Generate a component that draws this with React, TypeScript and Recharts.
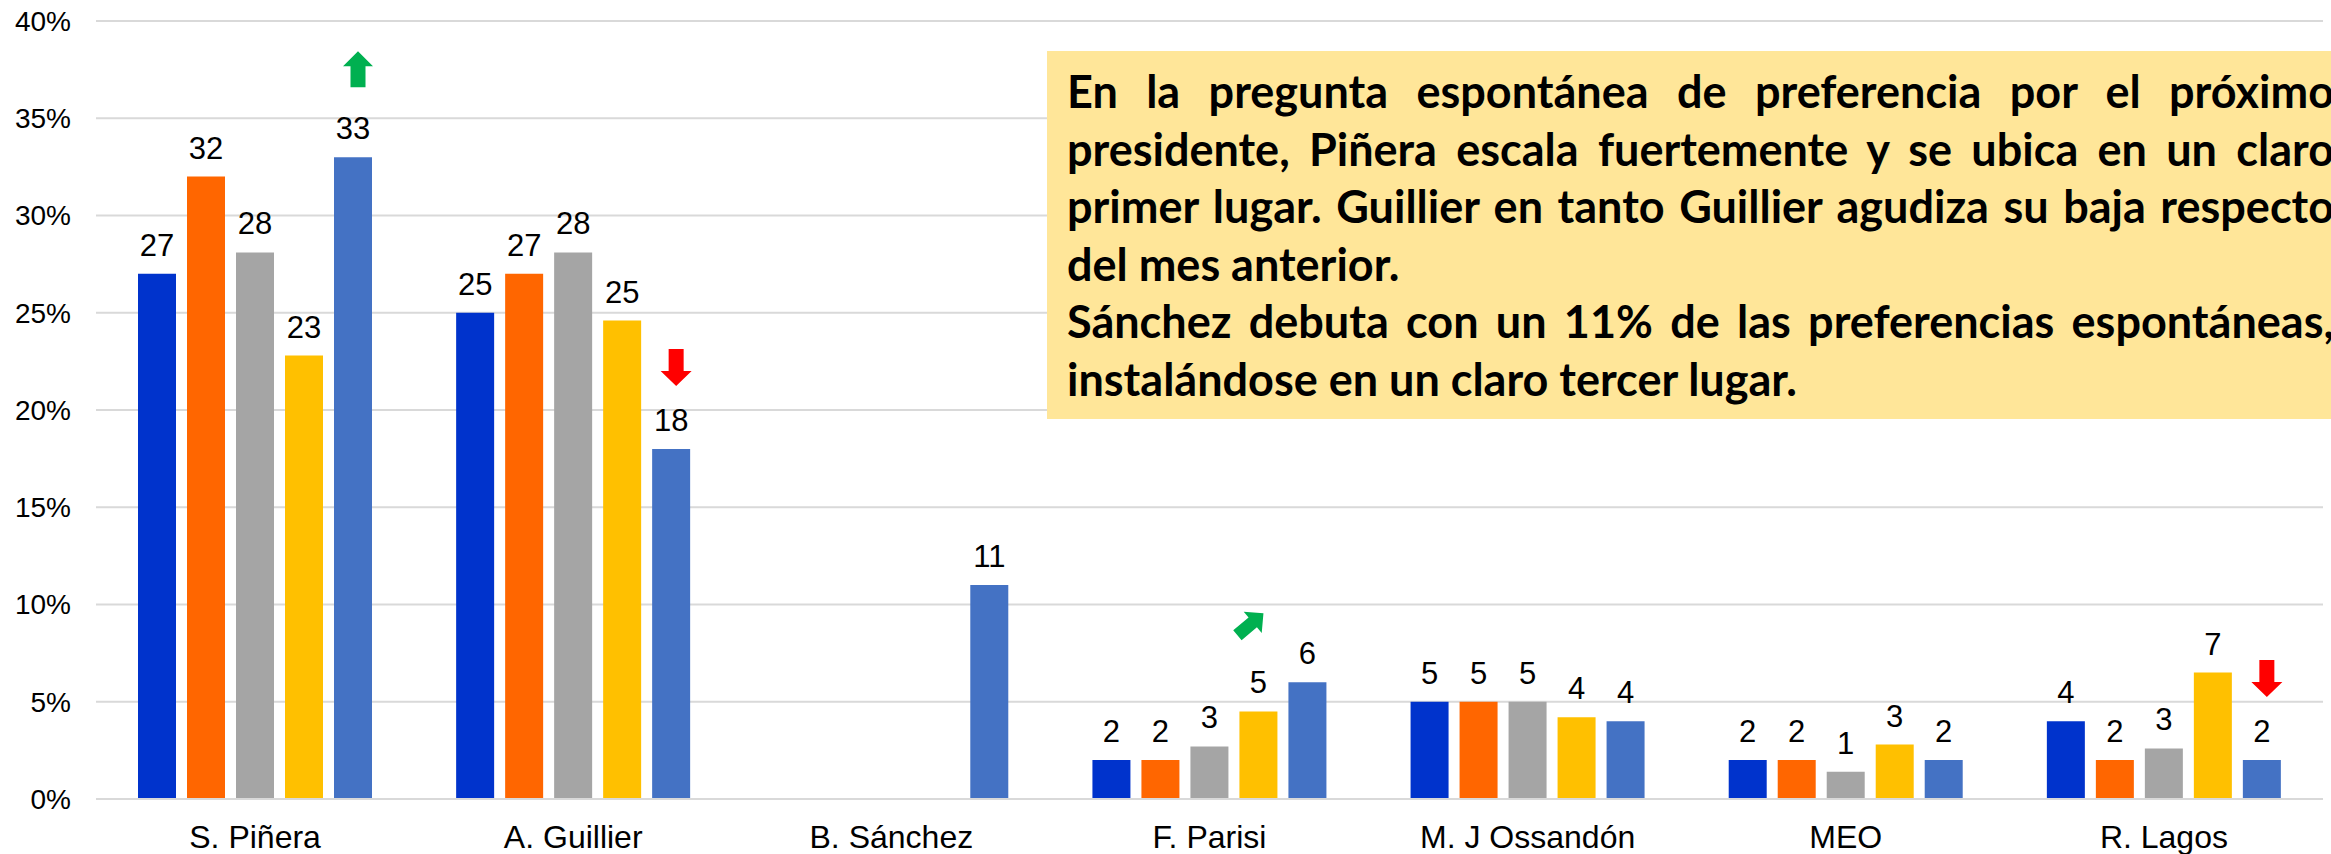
import React from 'react';
import { BarChart, Bar, XAxis, YAxis, CartesianGrid, LabelList } from 'recharts';

const categories = ['S. Piñera', 'A. Guillier', 'B. Sánchez', 'F. Parisi', 'M. J Ossandón', 'MEO', 'R. Lagos'];
const serie1 = [27, 25, null, 2, 5, 2, 4];
const serie2 = [32, 27, null, 2, 5, 2, 2];
const serie3 = [28.1, 28.1, null, 2.7, 5, 1.4, 2.6];
const serie4 = [22.8, 24.6, null, 4.5, 4.2, 2.8, 6.5];
const serie5 = [33, 18, 11, 6, 4, 2, 2];
const trend = ['up', 'down', null, 'diag', null, null, 'down'];
const yTicks = [0, 5, 10, 15, 20, 25, 30, 35, 40];

const noteLines = [
  { text: 'En la pregunta espontánea de preferencia por el próximo', justify: true },
  { text: 'presidente, Piñera escala fuertemente y se ubica en un claro', justify: true },
  { text: 'primer lugar. Guillier en tanto Guillier agudiza su baja respecto', justify: true },
  { text: 'del mes anterior.', justify: false },
  { text: 'Sánchez debuta con un 11% de las preferencias espontáneas,', justify: true },
  { text: 'instalándose en un claro tercer lugar.', justify: false },
];

const series = [
  { key: 's1', values: serie1, color: '#0033CC' },
  { key: 's2', values: serie2, color: '#FF6600' },
  { key: 's3', values: serie3, color: '#A5A5A5' },
  { key: 's4', values: serie4, color: '#FFC000' },
  { key: 's5', values: serie5, color: '#4472C4' },
];

const data = categories.map((name, i) => {
  const row: any = { name };
  series.forEach((s) => (row[s.key] = s.values[i]));
  return row;
});

const FONT = '"Liberation Sans", Arial, sans-serif';

const arrowShape = (dir: string, cx: number, top: number) => {
  if (dir === 'up') {
    const t = top - 106;
    const pts = [[cx, t], [cx + 15, t + 15], [cx + 7.5, t + 15], [cx + 7.5, t + 36], [cx - 7.5, t + 36], [cx - 7.5, t + 15], [cx - 15, t + 15]];
    return <polygon points={pts.map((p) => p.join(',')).join(' ')} fill="#00B050" />;
  }
  if (dir === 'down') {
    const t = top - 100;
    const pts = [[cx - 7.5, t], [cx + 7.5, t], [cx + 7.5, t + 22], [cx + 15.5, t + 22], [cx, t + 37], [cx - 15.5, t + 22], [cx - 7.5, t + 22]];
    return <polygon points={pts.map((p) => p.join(',')).join(' ')} fill="#FF0000" />;
  }
  if (dir === 'diag') {
    const pts = [[0, -17], [14, -3], [6.5, -3], [6.5, 17], [-6.5, 17], [-6.5, -3], [-14, -3]];
    return (
      <polygon
        points={pts.map((p) => p.join(',')).join(' ')}
        fill="#00B050"
        transform={`translate(${cx - 57},${top - 58}) rotate(50)`}
      />
    );
  }
  return null;
};

const makeLabel = (withArrow: boolean) => (props: any) => {
  const vb = props.viewBox && props.viewBox.width != null ? props.viewBox : props;
  const { x, y, width } = vb;
  const { value, index } = props;
  if (value == null) return null;
  const cx = x + width / 2;
  const dir = withArrow ? trend[index] : null;
  return (
    <g>
      <text x={cx} y={y - 18} textAnchor="middle" fontSize={31} fontFamily={FONT} fill="#000">
        {Math.round(value)}
      </text>
      {dir ? arrowShape(dir, dir === 'diag' ? cx : cx + 5, y) : null}
    </g>
  );
};

export default function App() {
  return (
    <div style={{ position: 'absolute', left: 0, top: 0, width: 2331, height: 854, overflow: 'hidden', background: '#fff' }}>
      <BarChart
        width={2331}
        height={854}
        data={data}
        margin={{ top: 21, right: 8, left: 0, bottom: 0 }}
        barCategoryGap={42}
        barGap={11}
      >
        <CartesianGrid vertical={false} stroke="#D9D9D9" strokeWidth={2} />
        <XAxis
          dataKey="name"
          height={55}
          axisLine={{ stroke: '#D9D9D9', strokeWidth: 2 }}
          tickLine={false}
          tickMargin={20}
          tick={{ fill: '#000', fontSize: 32, fontFamily: FONT }}
        />
        <YAxis
          width={96}
          domain={[0, 40]}
          ticks={yTicks}
          axisLine={false}
          tickLine={false}
          tickMargin={19}
          tickFormatter={(v: number) => `${v}%`}
          tick={{ fill: '#000', fontSize: 28, fontFamily: FONT }}
        />
        {series.map((s, i) => (
          <Bar key={s.key} dataKey={s.key} fill={s.color} isAnimationActive={false}>
            <LabelList dataKey={s.key} content={makeLabel(i === series.length - 1)} />
          </Bar>
        ))}
      </BarChart>
      <div
        style={{
          position: 'absolute',
          left: 1047,
          top: 51,
          width: 1300,
          height: 368,
          background: '#FFE699',
          boxSizing: 'border-box',
          paddingTop: 12,
          paddingLeft: 20,
        }}
      >
        {noteLines.map((l, i) => (
          <div
            key={i}
            style={{
              width: 1267,
              fontFamily: 'Lato, "Open Sans", sans-serif',
              fontWeight: 700,
              fontSize: 45,
              lineHeight: '57.5px',
              color: '#000',
              whiteSpace: 'nowrap',
              textAlign: l.justify ? 'justify' : 'left',
              textAlignLast: l.justify ? 'justify' : 'left',
            }}
          >
            {l.text}
          </div>
        ))}
      </div>
    </div>
  );
}
